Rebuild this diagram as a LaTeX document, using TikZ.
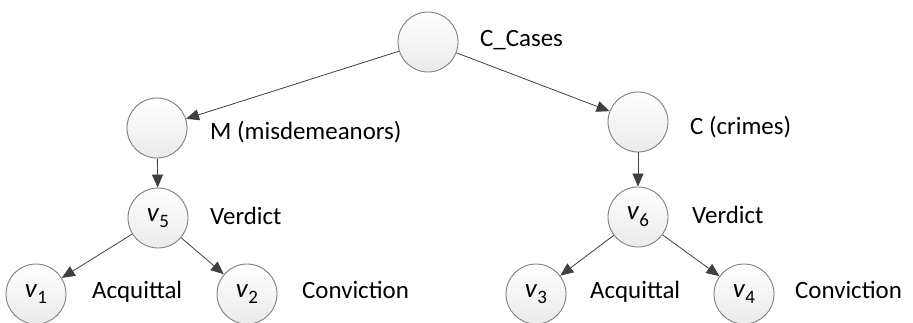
\documentclass[tikz,border=0pt]{standalone}
\usepackage{fontspec}
\setmainfont{Carlito}
\usetikzlibrary{arrows.meta}
\definecolor{edgegray}{HTML}{404040}
\definecolor{ringgray}{HTML}{7F7F7F}
\begin{document}
\begin{tikzpicture}[x=1bp,y=-1bp,
  vnode/.style={circle,draw=ringgray,line width=0.9bp,minimum size=60bp,inner sep=0pt,
    top color=white,bottom color=black!8,font=\fontsize{27}{30}\selectfont},
  lbl/.style={anchor=west,inner sep=0pt,text height=17bp,text depth=5bp,font=\fontsize{25}{30}\selectfont},
  conn/.style={draw=edgegray,line width=0.8bp,-{Triangle[length=13bp,width=11bp]}}]
\useasboundingbox (0,0) rectangle (913,322);
\newcommand{\vv}[1]{\textit{v}\raisebox{-0.25em}{\fontsize{19}{20}\selectfont #1}}
\node[vnode] (cc) at (428,42) {};
\node[vnode] (m) at (157,128) {};
\node[vnode] (c) at (638,122) {};
\node[vnode] (v5) at (158,218) {\vv{5}};
\node[vnode] (v6) at (638,217) {\vv{6}};
\node[vnode] (v1) at (36,294) {\vv{1}};
\node[vnode] (v2) at (247,294) {\vv{2}};
\node[vnode] (v3) at (536,294) {\vv{3}};
\node[vnode] (v4) at (744,294) {\vv{4}};
\node[lbl] (lcc) at (480,40) {C\_Cases};
\node[lbl] (lm) at (210,133) {M (misdemeanors)};
\node[lbl] (lc) at (690,128) {C (crimes)};
\node[lbl] (l5) at (210,218) {Verdict};
\node[lbl] (l6) at (692,217) {Verdict};
\node[lbl] (l1) at (92,292) {Acquittal};
\node[lbl] (l2) at (302,292) {Conviction};
\node[lbl] (l3) at (590,292) {Acquittal};
\node[lbl] (l4) at (795,292) {Conviction};
\draw[conn] (cc) -- (m);
\draw[conn] (cc) -- (c);
\draw[conn] (m) -- (v5);
\draw[conn] (c) -- (v6);
\draw[conn] (v5) -- (v1);
\draw[conn] (v5) -- (v2);
\draw[conn] (v6) -- (v3);
\draw[conn] (v6) -- (v4);
\end{tikzpicture}
\end{document}
